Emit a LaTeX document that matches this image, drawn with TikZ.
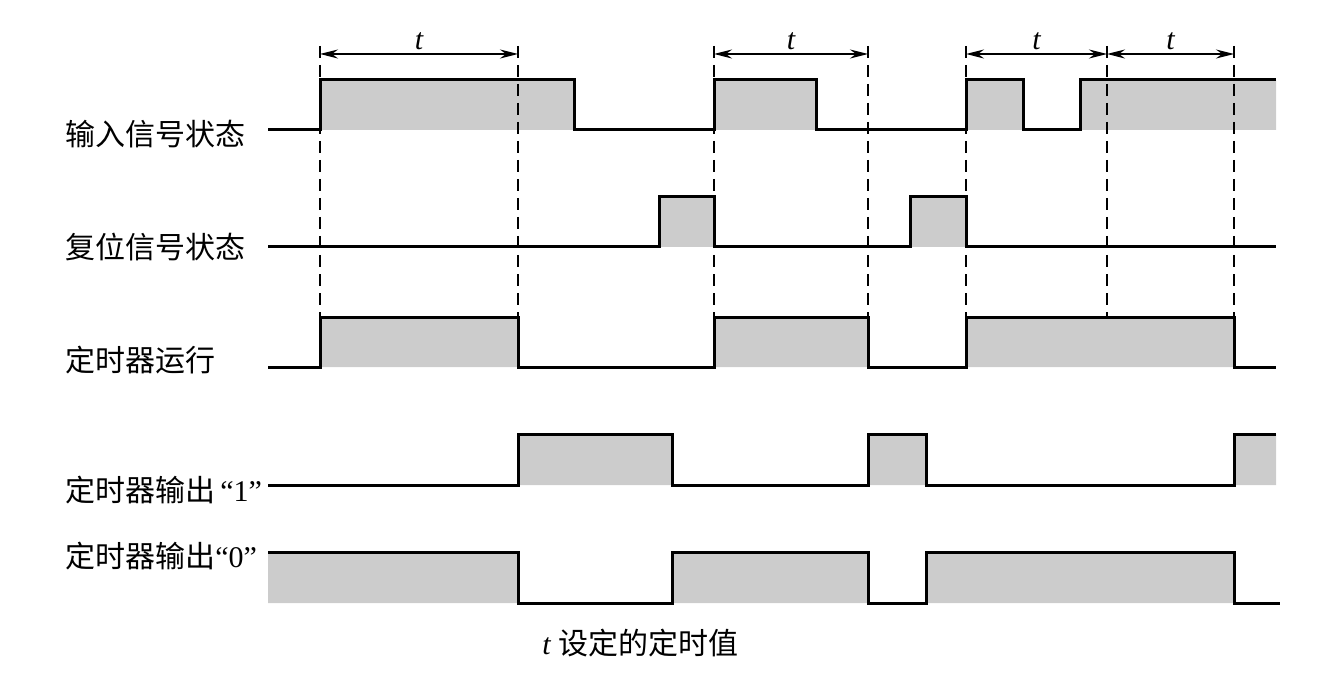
\documentclass[tikz,border=0pt]{standalone}
\usepackage{fontspec}
\setmainfont{Liberation Serif}
\newfontfamily\cjk{Noto Sans CJK SC}
\usetikzlibrary{arrows.meta}
\begin{document}
\begin{tikzpicture}[x=0.5pt,y=-0.5pt,
  wave/.style={line width=1.5pt,line join=miter},
  shade/.style={fill=black!20,draw=none},
  guide/.style={line width=0.9pt,dash pattern=on 6pt off 3.5pt},
  span/.style={line width=0.7pt,{Stealth[length=9pt,width=4.5pt,inset=3pt]}-{Stealth[length=9pt,width=4.5pt,inset=3pt]}},
  lbl/.style={anchor=west,inner sep=0pt,font=\fontsize{15}{17}\selectfont},
  tl/.style={inner sep=0pt,font=\fontsize{15}{17}\selectfont\itshape}]
\useasboundingbox (0,0) rectangle (1332,679);
% grey fills
\fill[shade] (320,80) rectangle (574,130) (714,80) rectangle (816,130)
  (966,80) rectangle (1023,130) (1080,80) rectangle (1276,130);
\fill[shade] (659,197) rectangle (714,247) (910,197) rectangle (966,247);
\fill[shade] (320,317) rectangle (518,367) (714,317) rectangle (868,367)
  (966,317) rectangle (1234,367);
\fill[shade] (518,434) rectangle (672,485) (868,434) rectangle (926,485)
  (1234,434) rectangle (1276,485);
\fill[shade] (268,552) rectangle (518,603) (672,552) rectangle (868,603)
  (926,552) rectangle (1234,603);
% guide coordinates
\coordinate (gaT) at (320,46); \coordinate (gaB) at (320,317); \coordinate (gaA) at (320,54);
\coordinate (gbT) at (518,46); \coordinate (gbB) at (518,317); \coordinate (gbA) at (518,54);
\coordinate (gcT) at (714,46); \coordinate (gcB) at (714,317); \coordinate (gcA) at (714,54);
\coordinate (gdT) at (868,46); \coordinate (gdB) at (868,317); \coordinate (gdA) at (868,54);
\coordinate (geT) at (966,46); \coordinate (geB) at (966,317); \coordinate (geA) at (966,54);
\coordinate (gfT) at (1107,46); \coordinate (gfB) at (1107,317); \coordinate (gfA) at (1107,54);
\coordinate (ggT) at (1234,46); \coordinate (ggB) at (1234,317); \coordinate (ggA) at (1234,54);
\foreach \n in {ga,gb,gc,gd,ge,gf,gg}{
  \draw[guide] (\n T) -- (\n B);
}
% span arrows
\draw[span] (gaA) -- node[tl,above=2pt] (t1) {t} (gbA);
\draw[span] (gcA) -- node[tl,above=2pt] (t2) {t} (gdA);
\draw[span] (geA) -- node[tl,above=2pt] (t3) {t} (gfA);
\draw[span] (gfA) -- node[tl,above=2pt] (t4) {t} (ggA);
% waveforms
\draw[wave] (268,130) -- (320,130) -- (320,80) -- (574,80) -- (574,130) -- (714,130)
  -- (714,80) -- (816,80) -- (816,130) -- (966,130) -- (966,80) -- (1023,80)
  -- (1023,130) -- (1080,130) -- (1080,80) -- (1276,80);
\draw[wave] (268,247) -- (659,247) -- (659,197) -- (714,197) -- (714,247) -- (910,247)
  -- (910,197) -- (966,197) -- (966,247) -- (1276,247);
\draw[wave] (268,367) -- (320,367) -- (320,317) -- (518,317) -- (518,367) -- (714,367)
  -- (714,317) -- (868,317) -- (868,367) -- (966,367) -- (966,317) -- (1234,317)
  -- (1234,367) -- (1276,367);
\draw[wave] (268,485) -- (518,485) -- (518,434) -- (672,434) -- (672,485) -- (868,485)
  -- (868,434) -- (926,434) -- (926,485) -- (1234,485) -- (1234,434) -- (1276,434);
\draw[wave] (268,552) -- (518,552) -- (518,603) -- (672,603) -- (672,552) -- (868,552)
  -- (868,603) -- (926,603) -- (926,552) -- (1234,552) -- (1234,603) -- (1280,603);
% labels
\node[lbl] (l1) at (65,134) {\cjk 输入信号状态};
\node[lbl] (l2) at (65,247) {\cjk 复位信号状态};
\node[lbl] (l3) at (65,360) {\cjk 定时器运行};
\node[lbl] (l4) at (65,490) {{\cjk 定时器输出}\,“1”};
\node[lbl] (l5) at (65,556) {{\cjk 定时器输出}“0”};
\node[lbl] (cap) at (542,643) {\textit{t} {\cjk 设定的定时值}};
\end{tikzpicture}
\end{document}
